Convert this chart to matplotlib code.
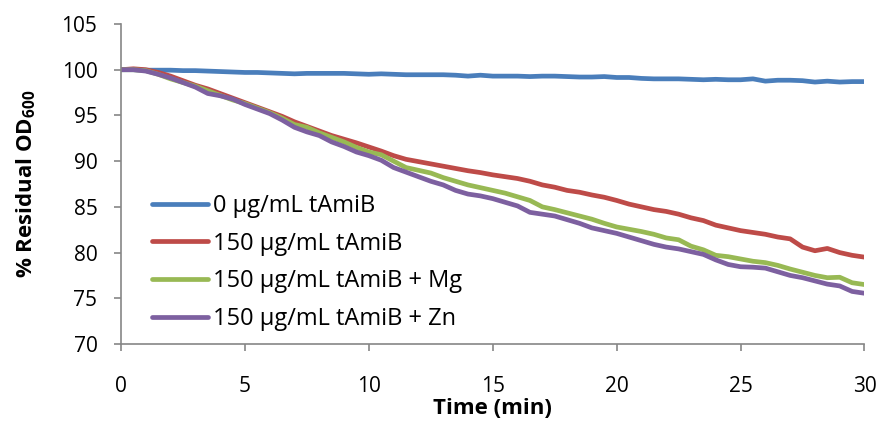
import numpy as np
import matplotlib
matplotlib.use("Agg")
import matplotlib.pyplot as plt

plt.rcParams['font.family'] = ['Open Sans', 'DejaVu Sans']
plt.rcParams['mathtext.fontset'] = 'custom'
plt.rcParams['mathtext.rm'] = 'Open Sans'
plt.rcParams['mathtext.bf'] = 'Open Sans:bold'

# time in minutes, readings every 30 s
tiempo = np.arange(0, 30.01, 0.5)

od_0 = [100, 100, 99.95, 99.95, 99.95, 99.9, 99.9, 99.85, 99.8, 99.75,
        99.7, 99.7, 99.65, 99.6, 99.55, 99.6, 99.6, 99.6, 99.6, 99.55,
        99.5, 99.55, 99.5, 99.45, 99.45, 99.45, 99.45, 99.4, 99.3, 99.4,
        99.3, 99.3, 99.3, 99.25, 99.3, 99.3, 99.25, 99.2, 99.2, 99.25,
        99.15, 99.15, 99.05, 99.0, 99.0, 99.0, 98.95, 98.9, 98.95, 98.9,
        98.9, 99.0, 98.75, 98.85, 98.85, 98.8, 98.65, 98.75, 98.65, 98.7,
        98.7]

od_150 = [100, 100.1, 100.0, 99.7, 99.3, 98.8, 98.3, 97.9, 97.4, 96.9,
          96.4, 95.9, 95.4, 94.9, 94.3, 93.8, 93.3, 92.8, 92.4, 92.0,
          91.55, 91.1, 90.6, 90.2, 89.95, 89.7, 89.45, 89.2, 88.95, 88.75,
          88.5, 88.3, 88.1, 87.8, 87.4, 87.15, 86.8, 86.6, 86.3, 86.05,
          85.7, 85.3, 85.0, 84.7, 84.5, 84.2, 83.8, 83.5, 83.0, 82.7,
          82.4, 82.2, 82.0, 81.7, 81.5, 80.6, 80.2, 80.45, 80.0, 79.7,
          79.5]

od_mg = [100, 100, 99.9, 99.5, 99.0, 98.6, 98.2, 97.7, 97.2, 96.7,
         96.3, 95.8, 95.3, 94.7, 94.0, 93.7, 93.1, 92.6, 92.1, 91.5,
         91.0, 90.7, 90.0, 89.3, 89.0, 88.7, 88.2, 87.8, 87.4, 87.1,
         86.8, 86.5, 86.1, 85.7, 85.0, 84.7, 84.35, 84.0, 83.65, 83.2,
         82.8, 82.55, 82.3, 82.0, 81.6, 81.4, 80.7, 80.3, 79.7, 79.55,
         79.3, 79.05, 78.9, 78.6, 78.2, 77.85, 77.5, 77.25, 77.3, 76.7,
         76.5]

od_zn = [100, 100, 99.85, 99.5, 99.1, 98.6, 98.1, 97.4, 97.15, 96.8,
         96.2, 95.7, 95.2, 94.5, 93.7, 93.2, 92.8, 92.1, 91.6, 91.0,
         90.6, 90.1, 89.3, 88.8, 88.3, 87.8, 87.4, 86.8, 86.4, 86.2,
         85.9, 85.5, 85.1, 84.4, 84.2, 84.0, 83.6, 83.2, 82.7, 82.4,
         82.1, 81.7, 81.3, 80.9, 80.6, 80.4, 80.1, 79.8, 79.2, 78.7,
         78.45, 78.4, 78.3, 77.9, 77.5, 77.25, 76.9, 76.55, 76.35, 75.75,
         75.55]

etiquetas = ['0 µg/mL tAmiB', '150 µg/mL tAmiB',
             '150 µg/mL tAmiB + Mg', '150 µg/mL tAmiB + Zn']
colores = ['#4A7EBB', '#BE4B48', '#98B954', '#7D60A0']

fig = plt.figure(figsize=(8.79, 4.24), dpi=100)
ax = fig.add_axes([121 / 879, 1 - 344 / 424, (864.5 - 121) / 879, (344 - 24) / 424])

for serie, etiqueta, color in zip([od_0, od_150, od_mg, od_zn], etiquetas, colores):
    ax.plot(tiempo, serie, color=color, linewidth=3.4, label=etiqueta,
            solid_capstyle='round', solid_joinstyle='round')

ax.set_xlim(0, 30)
ax.set_ylim(70, 105)
ax.set_xticks(range(0, 31, 5))
ax.set_yticks(range(70, 106, 5))

for lado in ['top', 'right']:
    ax.spines[lado].set_visible(False)
for lado in ['left', 'bottom']:
    ax.spines[lado].set_color('#868686')
    ax.spines[lado].set_linewidth(1.2)

ax.tick_params(axis='both', direction='out', length=5, width=1.2,
               color='#868686', labelsize=15)
ax.tick_params(axis='y', pad=12)
ax.tick_params(axis='x', pad=18)

ax.set_xlabel('Time (min)', fontsize=16, fontweight='bold', labelpad=1)
ax.set_ylabel('% Residual OD$_{\\mathbf{600}}$', fontsize=16, fontweight='bold', labelpad=17)

ax.legend(loc='center left', bbox_to_anchor=(0.0417, 0.255), frameon=False,
          fontsize=17, handlelength=2.37, handletextpad=0.21, labelspacing=0.58,
          borderpad=0, borderaxespad=0)

fig.savefig('out.png', dpi=100)
